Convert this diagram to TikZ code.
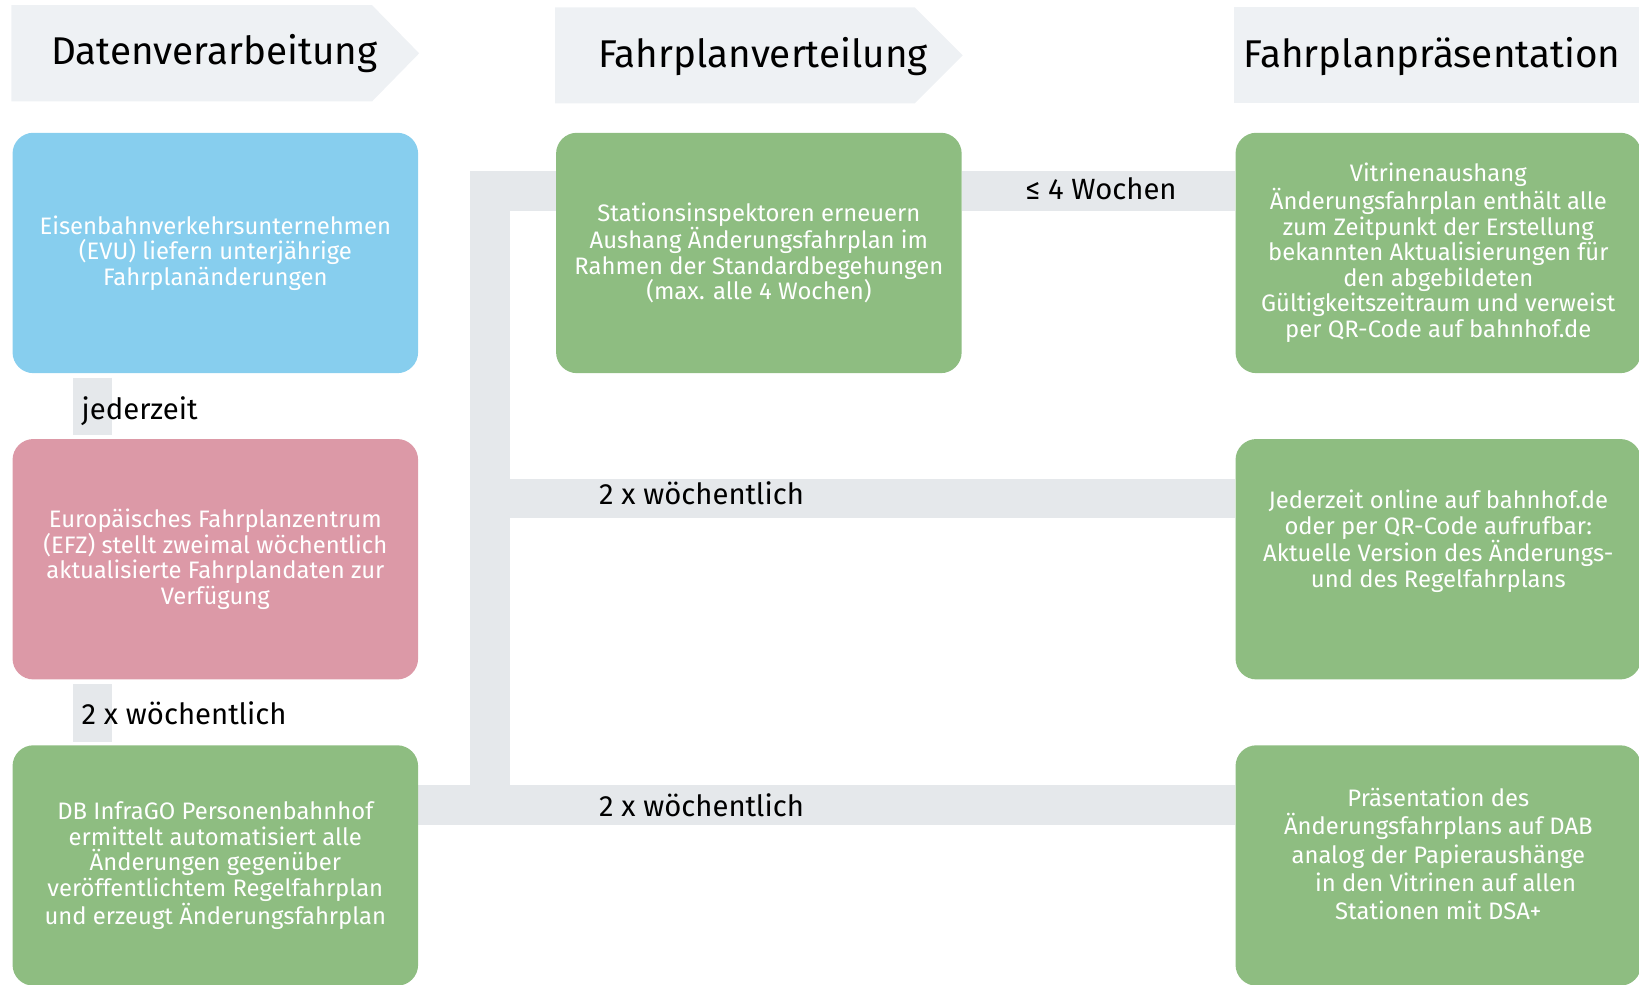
\documentclass[tikz,border=0pt]{standalone}
\usepackage{fontspec}
\setmainfont{Fira Sans}
\usetikzlibrary{backgrounds,calc}
\definecolor{headfill}{HTML}{EEF1F4}
\definecolor{barfill}{HTML}{E5E8EB}
\definecolor{bluebox}{HTML}{87CEEE}
\definecolor{pinkbox}{HTML}{DC99A7}
\definecolor{greenbox}{HTML}{8EBD81}
\tikzset{
  box/.style={rounded corners=20pt, minimum width=388pt, minimum height=230pt,
    inner sep=0pt, align=center, text=white,
    font=\fontsize{22.8}{24.5}\selectfont},
  headtext/.style={inner sep=0pt, font=\fontsize{37}{42}\selectfont},
  lbl/.style={inner sep=0pt, anchor=base west, font=\fontsize{28}{32}\selectfont},
  bar/.style={draw=barfill, line width=38pt, line join=miter},
}
\begin{document}
\begin{tikzpicture}[x=1pt,y=-1pt]
\useasboundingbox (0,0) rectangle (1568,942);
% headers
\fill[headfill] (11,5) -- (356,5) -- (401,51) -- (356,97) -- (11,97) -- cycle;
\fill[headfill] (531,7) -- (875,7) -- (921,53) -- (875,99) -- (531,99) -- cycle;
\fill[headfill] (1181,7) -- (1568,7) -- (1568,99) -- (1181,99) -- cycle;
\node[headtext] (h1) at (205,51) {Datenverarbeitung};
\node[headtext] (h2) at (730,54) {Fahrplanverteilung};
\node[headtext] (h3) at (1370,54) {Fahrplanpräsentation};
% boxes
\node[box, fill=bluebox] (evu) at (206,242) {Eisenbahnverkehrsunternehmen\\(EVU) liefern unterjährige\\Fahrplanänderungen};
\node[box, fill=pinkbox] (efz) at (206,535) {Europäisches Fahrplanzentrum\\(EFZ) stellt zweimal wöchentlich\\aktualisierte Fahrplandaten zur\\Verfügung};
\node[box, fill=greenbox] (db) at (206,828) {DB InfraGO Personenbahnhof\\ermittelt automatisiert alle\\Änderungen gegenüber\\veröffentlichtem Regelfahrplan\\und erzeugt Änderungsfahrplan};
\node[box, fill=greenbox] (si) at (726,242) {Stationsinspektoren erneuern\\Aushang Änderungsfahrplan im\\Rahmen der Standardbegehungen\\(max. alle 4 Wochen)};
\node[box, fill=greenbox] (vit) at (1376,242) {Vitrinenaushang\\Änderungsfahrplan enthält alle\\zum Zeitpunkt der Erstellung\\bekannten Aktualisierungen für\\den abgebildeten\\Gültigkeitszeitraum und verweist\\per QR-Code auf bahnhof.de};
\node[box, fill=greenbox] (online) at (1376,535) {};
\node[align=center, text=white, inner sep=0pt, font=\fontsize{22.8}{24.5}\selectfont] (onlinetext) at (1376,518) {Jederzeit online auf bahnhof.de\\oder per QR-Code aufrufbar:\\Aktuelle Version des Änderungs-\\und des Regelfahrplans};
\node[box, fill=greenbox] (dab) at (1376,828) {};
\node[align=center, text=white, inner sep=0pt, font=\fontsize{22.8}{27}\selectfont] (dabtext) at (1376,817) {Präsentation des\\Änderungsfahrplans auf DAB\\analog der Papieraushänge\\\hspace*{14pt}in den Vitrinen auf allen\\Stationen mit DSA+};
% row/column coordinates
\coordinate (c0) at (88.5,0);
\coordinate (c1) at (469,0);
\coordinate (r1) at (0,183);
\coordinate (r2) at (0,477);
\coordinate (r3) at (0,770);
% connectors
\begin{scope}[on background layer]
\draw[bar, shorten <=4pt, shorten >=4pt] (evu.south -| c0) -- (efz.north -| c0);
\draw[bar, shorten <=4pt, shorten >=3pt] (efz.south -| c0) -- (db.north -| c0);
\draw[bar] (si.west |- r1) -- (c1 |- r1) -- (c1 |- r3);
\draw[bar] (db.east |- r3) -- (dab.west |- r3);
\draw[bar] (c1 |- r2) -- (online.west |- r2);
\draw[bar] (si.east |- r1) -- (vit.west |- r1);
\end{scope}
% labels
\node[lbl] (l1) at (78,401) {jederzeit};
\node[lbl] (l2) at (78,693) {2 x wöchentlich};
\node[lbl] (l3) at (573,483) {2 x wöchentlich};
\node[lbl] (l4) at (573,781) {2 x wöchentlich};
\node[lbl] (l5) at (981,191) {≤ 4 Wochen};
\end{tikzpicture}
\end{document}
